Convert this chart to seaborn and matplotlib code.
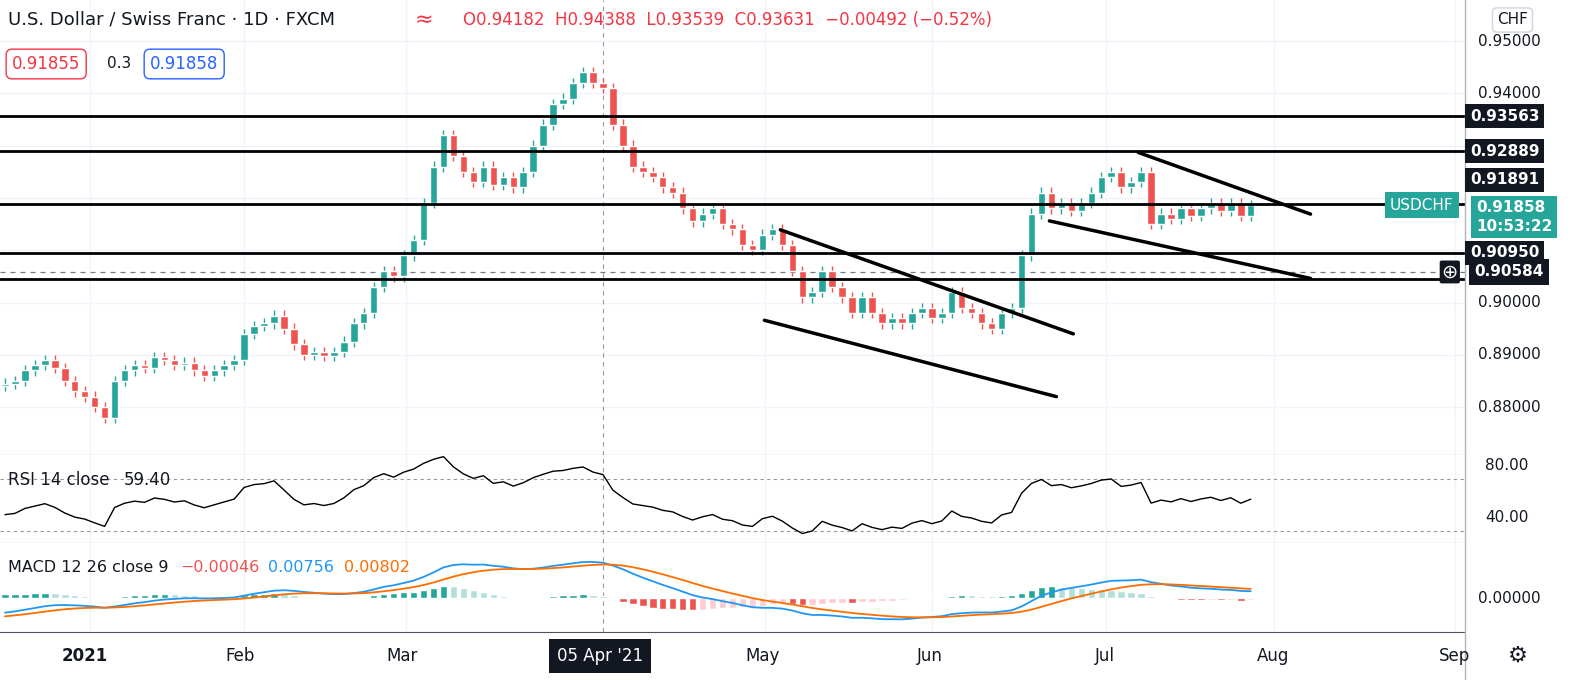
import numpy as np
import pandas as pd
import matplotlib
matplotlib.use("Agg")
import matplotlib.pyplot as plt
import seaborn as sns

closes = [0.8845,0.8850,0.8870,0.8880,0.8890,0.8875,0.8850,0.8830,0.8820,0.8800,
0.8780,0.8850,0.8870,0.8880,0.8875,0.8895,0.8890,0.8880,0.8885,0.8870,
0.8860,0.8870,0.8880,0.8890,0.8940,0.8955,0.8960,0.8975,0.8950,0.8920,
0.8900,0.8905,0.8898,0.8905,0.8925,0.8960,0.8980,0.9030,0.9060,0.9050,
0.9090,0.9120,0.9190,0.9260,0.9320,0.9280,0.9250,0.9230,0.9260,0.9225,
0.9240,0.9220,0.9250,0.9300,0.9340,0.9380,0.9390,0.9420,0.9440,0.9420,
0.9410,0.9340,0.9300,0.9260,0.9250,0.9240,0.9220,0.9210,0.9180,0.9155,
0.9170,0.9180,0.9150,0.9140,0.9110,0.9100,0.9130,0.9140,0.9110,0.9060,
0.9010,0.9020,0.9060,0.9030,0.9010,0.8980,0.9010,0.8980,0.8960,0.8970,
0.8960,0.8980,0.8990,0.8970,0.8980,0.9020,0.8990,0.8980,0.8960,0.8950,
0.8980,0.8990,0.9090,0.9170,0.9210,0.9180,0.9190,0.9175,0.9190,0.9210,
0.9240,0.9250,0.9220,0.9230,0.9250,0.9150,0.9170,0.9160,0.9180,0.9165,
0.9180,0.9190,0.9175,0.9190,0.9165,0.91858]
first_open = 0.8840
WICK = 0.0010
RSI_SEED_GAIN, RSI_SEED_LOSS = 0.0010, 0.0014
MACD_SEED, SIGNAL_SEED = -0.0045, -0.0055

tick_labels = ["2021", "Feb", "Mar", "May", "Jun", "Jul", "Aug", "Sep"]
tick_pos = [8.5, 24.0, 40.2, 76.3, 93.0, 110.5, 127.3, 145.5]
crosshair_pos = 60.0
crosshair_label = "05 Apr '21"

level_values = [0.93563, 0.92889, 0.91891, 0.90950, 0.9045]
level_labels = ["0.93563", "0.92889", "0.91891", "0.90950", None]
label_prices = [0.93563, 0.92889, 0.92350, 0.90950, None]
price_ticks = [0.95, 0.94, 0.93, 0.92, 0.91, 0.90, 0.89, 0.88]
shown_ticks = [0.95, 0.94, 0.90, 0.89, 0.88]
crosshair_price = 0.90584
crosshair_price_label = "0.90584"
trendlines = [((77.8, 0.9139), (107.2, 0.8940)),
              ((76.2, 0.8966), (105.5, 0.8820)),
              ((104.8, 0.9156), (131.0, 0.9046)),
              ((113.7, 0.9287), (131.0, 0.9169))]

UP, DN = "#26a69a", "#ef5350"
n = len(closes)
c = np.array(closes)
o = np.concatenate([[first_open], c[:-1]])
h = np.maximum(o, c) + WICK
l = np.minimum(o, c) - WICK
idx = np.arange(n)

g_avg, l_avg = RSI_SEED_GAIN, RSI_SEED_LOSS
rsi = []
for i in range(n):
    dd = c[i] - (c[i-1] if i else first_open)
    g_avg = (g_avg * 13 + max(dd, 0)) / 14
    l_avg = (l_avg * 13 + max(-dd, 0)) / 14
    rsi.append(100 - 100 / (1 + g_avg / l_avg))
rsi = np.array(rsi)
e12, e26, sg = c[0], c[0] - MACD_SEED, SIGNAL_SEED
macd, sig = [], []
for i in range(n):
    e12 += (c[i] - e12) * 2 / 13
    e26 += (c[i] - e26) * 2 / 27
    m = e12 - e26
    sg += (m - sg) * 2 / 10
    macd.append(m); sig.append(sg)
macd, sig = np.array(macd), np.array(sig)
hist = macd - sig

sns.set_style("white")
plt.rcParams["font.family"] = "DejaVu Sans"
W, H = 1574, 680
fig = plt.figure(figsize=(W/100, H/100), dpi=100)
aw = 1465 / W
ax = fig.add_axes([0, (H-455)/H, aw, 455/H])
ar = fig.add_axes([0, (H-543)/H, aw, 88/H])
am = fig.add_axes([0, (H-632)/H, aw, 89/H])
XL = (-0.5, 146.5)
grid = "#f0f3fa"
for a in (ax, ar, am):
    a.set_xlim(*XL)
    for t in tick_pos:
        a.axvline(t, color=grid, lw=1, zorder=0)
    a.axvline(crosshair_pos, color="#9598a1", lw=0.8, ls=(0, (4, 4)), zorder=1)
    a.set_xticks([]); a.set_yticks([])
    for sp in a.spines.values():
        sp.set_visible(False)
    a.spines["bottom"].set_visible(True); a.spines["bottom"].set_color("#50535e")

y0 = 0.95 + 41/5230
y1 = 0.95 - (455-41)/5230
ax.set_ylim(y1, y0)
for p in price_ticks:
    ax.axhline(p, color=grid, lw=1, zorder=0)
cols = np.where(c >= o, UP, DN)
ax.vlines(idx, l, h, colors=cols, lw=1, zorder=3)
ax.bar(idx, np.maximum(np.abs(c-o), 0.0002), bottom=np.minimum(o, c), width=0.75, color=cols, zorder=4)
for v in level_values:
    ax.axhline(v, color="black", lw=2, zorder=5)
ax.axhline(crosshair_price, color="#787b86", lw=0.9, ls=(0, (4, 4)), zorder=1)
for (x_a, p_a), (x_b, p_b) in trendlines:
    ax.plot([x_a, x_b], [p_a, p_b], color="black", lw=2.5, zorder=6, solid_capstyle="round")

def ypix(p):
    return (H - (41 + (0.95 - p) * 5230)) / H
for p in shown_ticks:
    fig.text(1478/W, ypix(p), f"{p:.5f}", fontsize=11, color="#131722", va="center")
for lp, lab in zip(label_prices, level_labels):
    if lab:
        fig.text(1470/W, ypix(lp), lab, fontsize=11, color="white", weight="bold", va="center",
                 bbox=dict(boxstyle="square,pad=0.3", fc="#131722", ec="none"))
fig.text(1458/W, ypix(crosshair_price), "\u2295", fontsize=14, color="white", va="center", ha="right",
         bbox=dict(boxstyle="round,pad=0.1", fc="#131722", ec="none"))
fig.text(1474/W, ypix(crosshair_price), crosshair_price_label, fontsize=11, color="white", weight="bold", va="center",
         bbox=dict(boxstyle="square,pad=0.35", fc="#131722", ec="none"))
fig.text(1390/W, ypix(0.91858), "USDCHF", fontsize=11, color="white", va="center",
         bbox=dict(boxstyle="square,pad=0.35", fc=UP, ec="none"))
fig.text(1476/W, ypix(0.91858) - 0.017, "0.91858\n10:53:22", fontsize=11, color="white", weight="bold",
         va="center", linespacing=1.3, bbox=dict(boxstyle="square,pad=0.3", fc=UP, ec="none"))

fig.text(8/W, 1-20/H, "U.S. Dollar / Swiss Franc · 1D · FXCM", fontsize=13, color="#131722", va="center")
fig.text(415/W, 1-20/H, "\u2248", fontsize=16, color="#f23645", va="center")
fig.text(463/W, 1-20/H, "O0.94182  H0.94388  L0.93539  C0.93631  \u22120.00492 (\u22120.52%)",
         fontsize=12, color="#f23645", va="center")
fig.text(12/W, 1-64/H, "0.91855", fontsize=12, color="#f23645", va="center",
         bbox=dict(boxstyle="round,pad=0.35", fc="white", ec="#f23645"))
fig.text(107/W, 1-64/H, "0.3", fontsize=11, color="#131722", va="center")
fig.text(150/W, 1-64/H, "0.91858", fontsize=12, color="#2962ff", va="center",
         bbox=dict(boxstyle="round,pad=0.35", fc="white", ec="#2962ff"))
fig.text(1497/W, 1-20/H, "CHF", fontsize=11, color="#131722", va="center",
         bbox=dict(boxstyle="round,pad=0.3", fc="white", ec="#d1d4dc"))

r_top = 80 + 11/52*40; r_bot = 40 - 25/52*40
ar.set_ylim(r_bot, r_top)
ar.axhline(70, color="#9598a1", lw=0.8, ls=(0, (3, 3)))
ar.axhline(30, color="#9598a1", lw=0.8, ls=(0, (3, 3)))
sns.lineplot(x=idx, y=rsi, ax=ar, color="black", lw=1)
ar.set_xlim(*XL)
for v in (80, 40):
    fig.text(1485/W, (H-455 - (r_top - v)/(r_top-r_bot)*88)/H, f"{v:.2f}", fontsize=11, color="#131722", va="center")
fig.text(8/W, 1-480/H, "RSI 14 close", fontsize=12, color="#131722", va="center")
fig.text(124/W, 1-480/H, f"{59.40:.2f}", fontsize=12, color="#131722", va="center")

m_top = 0.0157; m_bot = -0.0097
am.set_ylim(m_bot, m_top)
hc = []
for i, hv in enumerate(hist):
    prev = hist[i-1] if i else 0
    if hv >= 0:
        hc.append("#26a69a" if hv >= prev else "#b2dfdb")
    else:
        hc.append("#ffcdd2" if hv >= prev else "#ef5350")
am.bar(idx, hist, width=0.75, color=hc, zorder=2)
sns.lineplot(x=idx, y=macd, ax=am, color="#2196f3", lw=1.3, zorder=3)
sns.lineplot(x=idx, y=sig, ax=am, color="#ff6d00", lw=1.3, zorder=3)
am.set_xlim(*XL)
fig.text(1478/W, (H-543 - (m_top)/(m_top-m_bot)*89)/H, "0.00000", fontsize=11, color="#131722", va="center")
fig.text(8/W, 1-568/H, "MACD 12 26 close 9", fontsize=11.5, color="#131722", va="center")
fig.text(180/W, 1-568/H, "\u22120.00046", fontsize=11.5, color="#ef5350", va="center")
fig.text(268/W, 1-568/H, "0.00756", fontsize=11.5, color="#2196f3", va="center")
fig.text(344/W, 1-568/H, "0.00802", fontsize=11.5, color="#ff6d00", va="center")

for t, lab in zip(tick_pos, tick_labels):
    fig.text(t*10/W, 1-656/H, lab, fontsize=12, color="#131722", ha="center", va="center",
             weight="bold" if lab == "2021" else "normal")
fig.text(crosshair_pos*10/W, 1-656/H, crosshair_label, fontsize=12, color="white", ha="center", va="center",
         bbox=dict(boxstyle="square,pad=0.5", fc="#131722", ec="none"))
fig.text(1518/W, 1-656/H, "\u2699", fontsize=16, color="#131722", ha="center", va="center")
fig.add_artist(plt.Line2D([aw, aw], [0, 1], color="#b2b5be", lw=1))
fig.savefig("out.png", dpi=100, facecolor="white")
